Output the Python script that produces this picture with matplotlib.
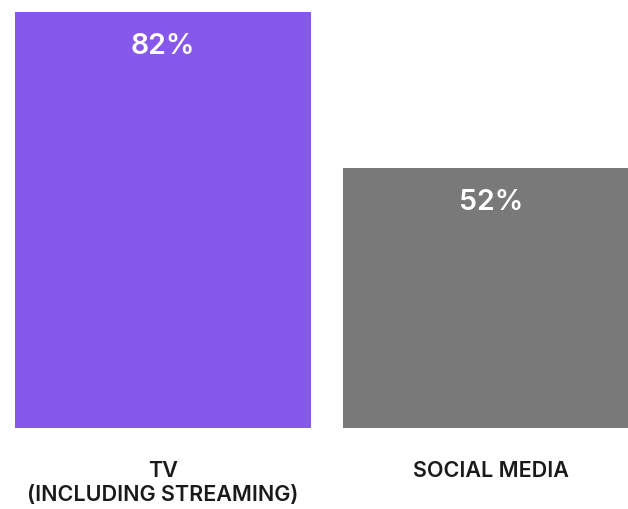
import matplotlib.pyplot as plt

categories = ['TV\n(INCLUDING STREAMING)', 'SOCIAL MEDIA']
values = [82, 52]
colors = ['#8658EB', '#797979']

plt.rcParams['font.family'] = ['Inter', 'DejaVu Sans']

fig = plt.figure(figsize=(6.28, 5.09), dpi=100)
ax = fig.add_axes([15 / 628, 81 / 509, 613 / 628, 416 / 509])

x = range(len(values))
ax.bar(x, values, width=0.902, color=colors)
ax.set_xlim(-0.451, 1.418)
ax.set_ylim(2, 82)

for xi, v in zip(x, values):
    ax.annotate(f'{v}%', (xi, v), xytext=(0, -25), textcoords='offset points',
                ha='center', va='center', color='white', fontsize=20.5,
                fontweight='semibold')
    ax.annotate(categories[xi], (xi, 2), xytext=(0, -23.5), textcoords='offset points',
                ha='center', va='top', color='#1a1a1a', fontsize=15.5,
                fontweight='semibold', linespacing=1.3, annotation_clip=False)

ax.axis('off')
fig.savefig('out.png', dpi=100)
